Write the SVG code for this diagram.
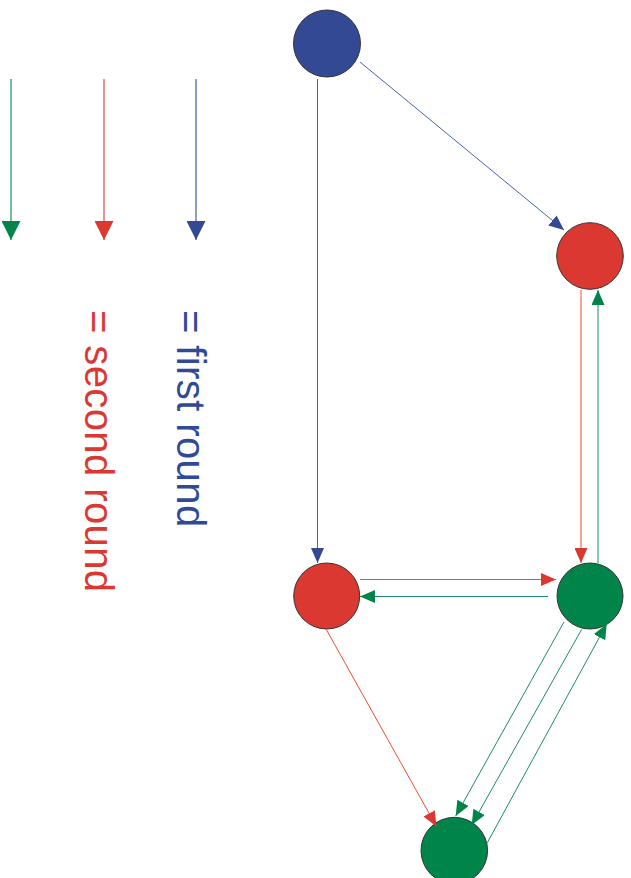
<svg xmlns="http://www.w3.org/2000/svg" width="631" height="878" viewBox="0 0 631 878">
<style>
.node{stroke:#333;stroke-width:1}
.blue{fill:#344994}
.red{fill:#db3832}
.green{fill:#00844a}
.e{fill:none;stroke-width:1}
.eb{stroke:#4a62a8}
.er{stroke:#e8502a}
.eg{stroke:#1a9060}
.leg{fill:none;stroke-width:2;stroke-opacity:0.55}
.lbl{font-family:"Liberation Sans",Arial,sans-serif;font-size:40px;letter-spacing:0.4px}
</style>
<defs>
<marker id="ab" markerUnits="userSpaceOnUse" markerWidth="15" markerHeight="13" refX="15" refY="6.5" orient="auto"><path d="M0,0 L15,6.5 L0,13 z" fill="#344994"/></marker>
<marker id="ar" markerUnits="userSpaceOnUse" markerWidth="15" markerHeight="13" refX="15" refY="6.5" orient="auto"><path d="M0,0 L15,6.5 L0,13 z" fill="#db3832"/></marker>
<marker id="ag" markerUnits="userSpaceOnUse" markerWidth="15" markerHeight="13" refX="15" refY="6.5" orient="auto"><path d="M0,0 L15,6.5 L0,13 z" fill="#00844a"/></marker>
<marker id="lb" markerUnits="userSpaceOnUse" markerWidth="19" markerHeight="19" refX="19" refY="9.5" orient="auto"><path d="M0,0 L19,9.5 L0,19 z" fill="#344994"/></marker>
<marker id="lr" markerUnits="userSpaceOnUse" markerWidth="19" markerHeight="19" refX="19" refY="9.5" orient="auto"><path d="M0,0 L19,9.5 L0,19 z" fill="#db3832"/></marker>
<marker id="lg" markerUnits="userSpaceOnUse" markerWidth="19" markerHeight="19" refX="19" refY="9.5" orient="auto"><path d="M0,0 L19,9.5 L0,19 z" fill="#00844a"/></marker>
</defs>
<g id="legend">
<path class="leg" stroke="#00844a" d="M11,79 L11,240" marker-end="url(#lg)"/>
<path class="leg" stroke="#db3832" d="M104,79 L104,240" marker-end="url(#lr)"/>
<path class="leg" stroke="#344994" d="M196,79 L196,240" marker-end="url(#lb)"/>
<text class="lbl" fill="#2f4a98" transform="translate(177,310) rotate(90)">= first round</text>
<text class="lbl" fill="#db3832" transform="translate(85,310) rotate(90)">= second round</text>
</g>
<g id="n1"><circle class="node blue" cx="327" cy="43.5" r="33.5"/></g>
<g id="n2"><circle class="node red" cx="590" cy="256" r="33.3"/></g>
<g id="n3"><circle class="node red" cx="326.7" cy="596" r="33"/></g>
<g id="n4"><circle class="node green" cx="590" cy="596" r="33"/></g>
<g id="n5"><circle class="node green" cx="454.3" cy="850.6" r="33.3"/></g>
<g id="connectors">
<path class="e eb" d="M360,62 L564,230" marker-end="url(#ab)"/>
<path class="e eb" d="M317.5,79 L317.5,563" marker-end="url(#ab)"/>
<path class="e er" d="M581,290 L581,563" marker-end="url(#ar)"/>
<path class="e eg" d="M598,563 L598,290" marker-end="url(#ag)"/>
<path class="e er" d="M360,579.5 L556,579.5" marker-end="url(#ar)"/>
<path class="e eg" d="M548,596.5 L360,596.5" marker-end="url(#ag)"/>
<path class="e er" d="M326,629 L436.5,826.5" marker-end="url(#ar)"/>
<path class="e eg" d="M564,622 L455.7,816" marker-end="url(#ag)"/>
<path class="e eg" d="M581.7,629.3 L471.7,825" marker-end="url(#ag)"/>
<path class="e eg" d="M487.3,842.7 L606.7,624" marker-end="url(#ag)"/>
</g>
</svg>
